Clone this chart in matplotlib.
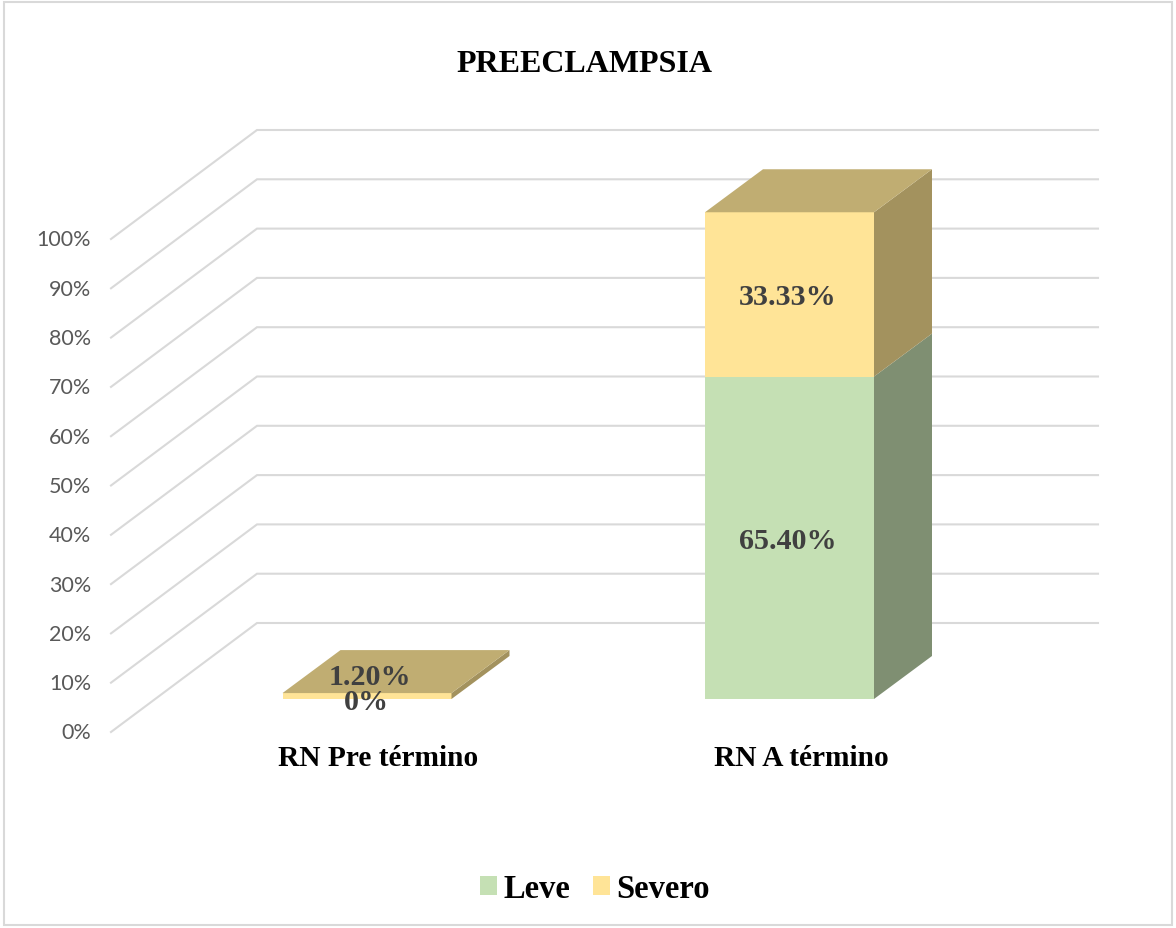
import matplotlib
matplotlib.use("Agg")
import matplotlib.pyplot as plt
from matplotlib.patches import Patch, Polygon, Rectangle

categories = ["RN Pre término", "RN A término"]
leve = [0, 65.40]
severo = [1.20, 33.33]
leve_labels = ["0%", "65.40%"]
severo_labels = ["1.20%", "33.33%"]
grid_values = list(range(0, 101, 10))

GREEN = ("#C5E0B4", "#7F8F72")
YELLOW = ("#FFE497", "#A3925E")
TOP = "#C0AD72"
GRID = "#D9D9D9"

# axes fill the figure, x in category units, y in percent on the bars' front plane
W, H = 1176, 929
CAT_PX = 422.5
PCT_PX = 4.93
X0_PX = 367
Y0_PX = 700

fig = plt.figure(figsize=(W / 100, H / 100), dpi=100)
ax = fig.add_axes([0, 0, 1, 1])
ax.set_xlim(-X0_PX / CAT_PX, (W - X0_PX) / CAT_PX)
ax.set_ylim((Y0_PX - H) / PCT_PX, Y0_PX / PCT_PX)
ax.axis("off")

half = 84.5 / CAT_PX
dx_bar, dy_bar = 58 / CAT_PX, 43 / PCT_PX       # depth of a bar
dx_front, dy_front = 44 / CAT_PX, 33 / PCT_PX   # wall front to bar front
dx_wall, dy_wall = 146 / CAT_PX, 109 / PCT_PX   # full floor depth
x_wall = (111 + 44 - X0_PX) / CAT_PX            # left end of floor at bar plane
x_wall_end = x_wall + 841 / CAT_PX
text_drop = 2.5 / PCT_PX                        # text sits a bit below centre

ax.add_patch(Rectangle((0.003, 0.003), 0.994, 0.994, transform=ax.transAxes,
                       fill=False, ec=GRID, lw=1.5))

for v in grid_values:
    y_front = v - dy_front
    y_back = y_front + dy_wall
    x_front = x_wall - dx_front
    x_back = x_front + dx_wall
    ax.plot([x_front, x_back, x_wall_end + dx_wall - dx_front],
            [y_front, y_back, y_back], color=GRID, lw=1.5, zorder=1,
            solid_joinstyle="miter")
    ax.text(x_front - 20 / CAT_PX, y_front - 0.1, f"{v}%", ha="right", va="center",
            family="Lato", fontsize=15.5, color="#595959")


def draw_segment(x, bottom, top, colors):
    left, right = x - half, x + half
    ax.add_patch(Rectangle((left, bottom), right - left, top - bottom,
                           fc=colors[0], ec="none", zorder=3))
    ax.add_patch(Polygon([(right, bottom), (right + dx_bar, bottom + dy_bar),
                          (right + dx_bar, top + dy_bar), (right, top)],
                         fc=colors[1], ec="none", zorder=3))


for i in range(len(categories)):
    draw_segment(i, 0, leve[i], GREEN)
    total = leve[i] + severo[i]
    draw_segment(i, leve[i], total, YELLOW)
    ax.add_patch(Polygon([(i - half, total), (i + half, total),
                          (i + half + dx_bar, total + dy_bar),
                          (i - half + dx_bar, total + dy_bar)],
                         fc=TOP, ec="none", zorder=3))
    ax.text(i + 11.5 / CAT_PX, -58.5 / PCT_PX, categories[i], ha="center", va="center",
            family="Liberation Serif", fontweight="bold", fontsize=21.2, color="black")

label_style = dict(ha="center", va="center", family="Liberation Serif",
                   fontweight="bold", fontsize=21.6, color="#404040", zorder=5)
ax.text(-1 / CAT_PX, leve[0] / 2 - text_drop, leve_labels[0], **label_style)
ax.text(3 / CAT_PX, severo[0] / 2 + 4.5 - text_drop, severo_labels[0], **label_style)
ax.text(1 - 2 / CAT_PX, leve[1] / 2 - text_drop, leve_labels[1], **label_style)
ax.text(1 - 2 / CAT_PX, leve[1] + severo[1] / 2 - text_drop, severo_labels[1], **label_style)

ax.text(0.4966, 1 - 64.5 / H, "PREECLAMPSIA", transform=ax.transAxes, ha="center",
        va="center", family="Liberation Serif", fontweight="bold", fontsize=23,
        color="black")

handles = [Patch(fc=GREEN[0], ec="none"), Patch(fc=YELLOW[0], ec="none")]
ax.legend(handles, ["Leve", "Severo"], ncol=2, frameon=False, loc="center",
          bbox_to_anchor=(595 / W, 1 - 890 / H),
          prop=dict(family="Liberation Serif", weight="bold", size=23.5),
          handlelength=0.52, handleheight=0.52, handletextpad=0.2, columnspacing=0.7)

fig.savefig("out.png", dpi=100, facecolor="white")
